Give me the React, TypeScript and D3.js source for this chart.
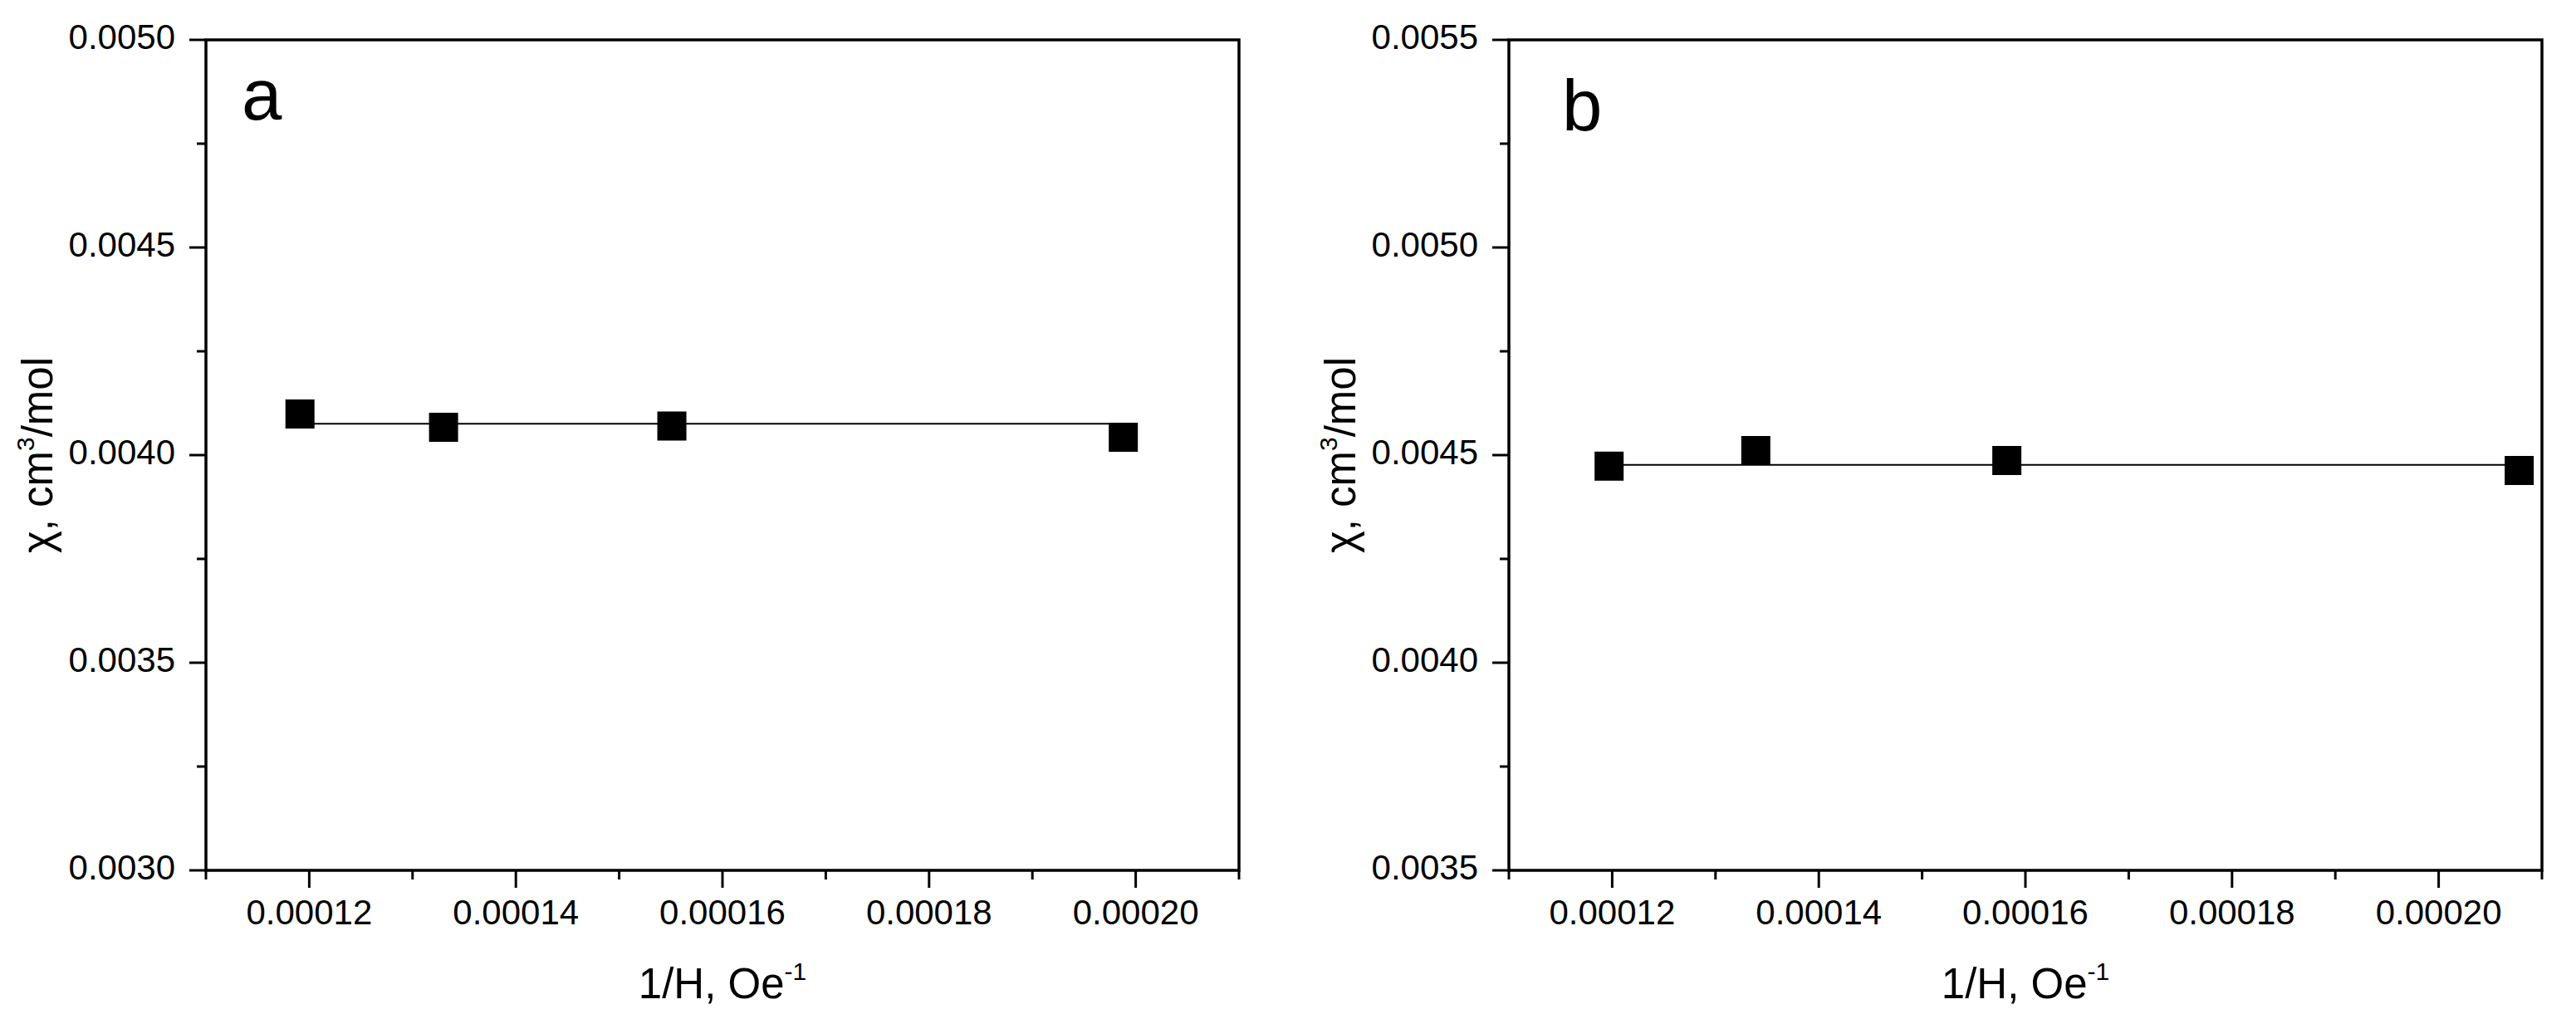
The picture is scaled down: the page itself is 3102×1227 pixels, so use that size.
import * as d3 from "d3";

const WIDTH = 3102;
const HEIGHT = 1227;
const FONT = "Arial, 'Liberation Sans', Helvetica, sans-serif";

// 1/H, Oe^-1 and chi, cm3/mol
const invFieldA = [0.0001191, 0.000133, 0.0001551, 0.0001988];
const chiA = [0.004099, 0.004067, 0.00407, 0.004043];
const fitA = 0.0040754;

const invFieldB = [0.0001197, 0.0001339, 0.0001582, 0.0002078];
const chiB = [0.0044734, 0.004511, 0.004487, 0.004463];
const fitB = 0.0044766;

const xDomain = [0.00011, 0.00021];
const xMajor = [0.00012, 0.00014, 0.00016, 0.00018, 0.0002];
const xMinor = [0.00011, 0.00013, 0.00015, 0.00017, 0.00019, 0.00021];

const yDomainA = [0.003, 0.005];
const yMajorA = [0.003, 0.0035, 0.004, 0.0045, 0.005];
const yMinorA = [0.00325, 0.00375, 0.00425, 0.00475];

const yDomainB = [0.0035, 0.0055];
const yMajorB = [0.0035, 0.004, 0.0045, 0.005, 0.0055];
const yMinorB = [0.00375, 0.00425, 0.00475, 0.00525];

const panelLetters = ["a", "b"];

const fmtX = d3.format(".5f");
const fmtY = d3.format(".4f");

type PanelProps = {
  left: number;
  letter: string;
  letterDx: number;
  letterY: number;
  xs: number[];
  ys: number[];
  fit: number;
  yDomain: number[];
  yMajor: number[];
  yMinor: number[];
};

const TOP = 48;
const BOTTOM = 1048;
const PLOT_W = 1244;
const MARKER = 35;

function Panel({ left, letter, letterDx, letterY, xs, ys, fit, yDomain, yMajor, yMinor }: PanelProps) {
  const right = left + PLOT_W;
  const x = d3.scaleLinear().domain(xDomain).range([left, right]);
  const y = d3.scaleLinear().domain(yDomain).range([BOTTOM, TOP]);
  const pts = xs.map((v, i) => ({ x: v, y: ys[i] }));
  const fitLine = d3
    .line<number>()
    .x((d) => x(d))
    .y(() => y(fit));
  const cx = (left + right) / 2;
  const cy = (TOP + BOTTOM) / 2;

  return (
    <g>
      {/* frame */}
      <rect x={left} y={TOP} width={PLOT_W} height={BOTTOM - TOP} fill="none" stroke="#000" strokeWidth={3.5} />

      {/* y ticks */}
      {yMajor.map((t) => (
        <g key={"ym" + t}>
          <line x1={left - 20} x2={left} y1={y(t)} y2={y(t)} stroke="#000" strokeWidth={3} />
          <text x={left - 37} y={y(t) + 11} textAnchor="end" fontSize={42} fontFamily={FONT}>
            {fmtY(t)}
          </text>
        </g>
      ))}
      {yMinor.map((t) => (
        <line key={"yn" + t} x1={left - 11} x2={left} y1={y(t)} y2={y(t)} stroke="#000" strokeWidth={3} />
      ))}

      {/* x ticks */}
      {xMajor.map((t) => (
        <g key={"xm" + t}>
          <line x1={x(t)} x2={x(t)} y1={BOTTOM} y2={BOTTOM + 21} stroke="#000" strokeWidth={3} />
          <text x={x(t)} y={BOTTOM + 65} textAnchor="middle" fontSize={42} fontFamily={FONT}>
            {fmtX(t)}
          </text>
        </g>
      ))}
      {xMinor.map((t) => (
        <line key={"xn" + t} x1={x(t)} x2={x(t)} y1={BOTTOM} y2={BOTTOM + 11} stroke="#000" strokeWidth={3} />
      ))}

      {/* axis titles */}
      <text x={cx} y={BOTTOM + 154} textAnchor="middle" fontSize={51} fontFamily={FONT}>
        1/H, Oe
        <tspan fontSize={30} dy={-22}>-1</tspan>
      </text>
      <text
        transform={`translate(${left - 185},${cy}) rotate(-90)`}
        textAnchor="middle"
        fontSize={51}
        fontFamily={FONT}
      >
        χ, cm
        <tspan fontSize={30} dy={-22}>3</tspan>
        <tspan dy={22}>/mol</tspan>
      </text>

      {/* panel letter */}
      <text x={left + letterDx} y={letterY} fontSize={87} fontFamily={FONT}>
        {letter}
      </text>

      {/* fit line */}
      <path
        d={fitLine([xs[0], xs[xs.length - 1]]) ?? ""}
        fill="none"
        stroke="#000"
        strokeWidth={2}
      />

      {/* data */}
      {pts.map((p, i) => (
        <rect
          key={i}
          x={x(p.x) - MARKER / 2}
          y={y(p.y) - MARKER / 2}
          width={MARKER}
          height={MARKER}
          fill="#000"
        />
      ))}
    </g>
  );
}

export default function App() {
  return (
    <div style={{ position: "absolute", left: 0, top: 0, background: "#fff" }}>
      <svg width={WIDTH} height={HEIGHT} viewBox={`0 0 ${WIDTH} ${HEIGHT}`}>
        <rect width={WIDTH} height={HEIGHT} fill="#fff" />
        <Panel
          left={248}
          letter={panelLetters[0]}
          letterDx={43}
          letterY={144}
          xs={invFieldA}
          ys={chiA}
          fit={fitA}
          yDomain={yDomainA}
          yMajor={yMajorA}
          yMinor={yMinorA}
        />
        <Panel
          left={1817}
          letter={panelLetters[1]}
          letterDx={64}
          letterY={157}
          xs={invFieldB}
          ys={chiB}
          fit={fitB}
          yDomain={yDomainB}
          yMajor={yMajorB}
          yMinor={yMinorB}
        />
      </svg>
    </div>
  );
}
